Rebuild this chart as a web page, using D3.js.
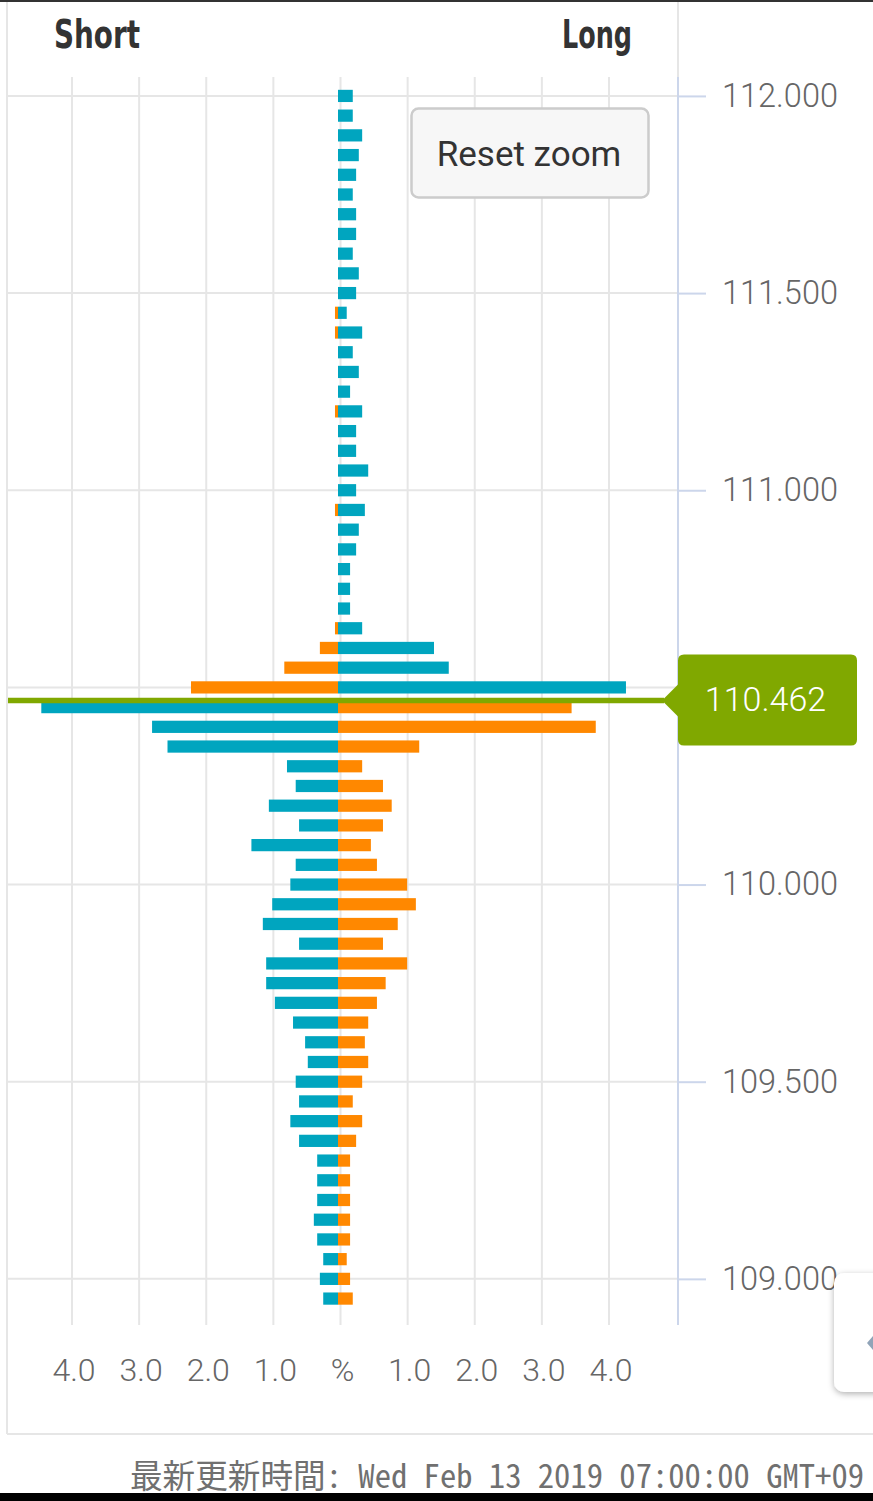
<!DOCTYPE html>
<html>
<head>
<meta charset="utf-8">
<script src="https://cdn.jsdelivr.net/npm/d3@7"></script>
<style>
html,body{margin:0;padding:0;background:#fff;overflow:hidden;}
svg{display:block;}
</style>
</head>
<body>
<svg id="chart" width="873" height="1501"></svg>
<script>
// ---------------- DATA ----------------
const prices = [
  112.00,111.95,111.90,111.85,111.80,111.75,111.70,111.65,111.60,111.55,
  111.50,111.45,111.40,111.35,111.30,111.25,111.20,111.15,111.10,111.05,
  111.00,110.95,110.90,110.85,110.80,110.75,110.70,110.65,110.60,110.55,
  110.50,110.45,110.40,110.35,110.30,110.25,110.20,110.15,110.10,110.05,
  110.00,109.95,109.90,109.85,109.80,109.75,109.70,109.65,109.60,109.55,
  109.50,109.45,109.40,109.35,109.30,109.25,109.20,109.15,109.10,109.05,
  109.00,108.95
];
// % of positions, short side (drawn to the left)
const shortPct = [
  0,0,0,0,0,0,0,0,0,0,
  0,0.045,0.045,0,0,0,0.045,0,0,0,
  0,0.045,0,0,0,0,0,0.045,0.27,0.80,
  2.19,4.42,2.77,2.54,0.76,0.63,1.03,0.58,1.29,0.63,
  0.71,0.98,1.12,0.58,1.07,1.07,0.94,0.67,0.49,0.45,
  0.63,0.58,0.71,0.58,0.31,0.31,0.31,0.36,0.31,0.22,
  0.27,0.22
];
// % of positions, long side (drawn to the right)
const longPct = [
  0.22,0.22,0.36,0.31,0.27,0.22,0.27,0.27,0.22,0.31,
  0.27,0.13,0.36,0.22,0.31,0.18,0.36,0.27,0.27,0.45,
  0.27,0.40,0.31,0.27,0.18,0.18,0.18,0.36,1.43,1.65,
  4.29,3.48,3.84,1.21,0.36,0.67,0.80,0.67,0.49,0.58,
  1.03,1.16,0.89,0.67,1.03,0.71,0.58,0.45,0.40,0.45,
  0.36,0.22,0.36,0.27,0.18,0.18,0.18,0.18,0.18,0.13,
  0.18,0.22
];
const currentPrice = 110.462;
const xTickValues = [-4,-3,-2,-1,0,1,2,3,4];
const xTickLabels = ["4.0","3.0","2.0","1.0","%","1.0","2.0","3.0","4.0"];
const yTickValues = [109.0,109.5,110.0,110.5,111.0,111.5,112.0];
const sideTitles = ["Short","Long"];
const footerText = "最新更新時間: Wed Feb 13 2019 07:00:00 GMT+09";
const buttonText = "Reset zoom";

// ---------------- STYLE ----------------
const TEAL = "#00a5bf", ORANGE = "#ff8800", GREEN = "#80a800";
const GRID = "#e6e6e6", AXIS = "#ccd6eb", TEXT = "#666666";

const svg = d3.select("#chart");

const plotTop = 77, plotBottom = 1325, plotLeft = 8, plotRight = 678;

const y = d3.scaleLinear().domain([108.883, 112.048]).range([plotBottom, plotTop]);
const x = d3.scaleLinear().domain([-4, 4]).range([72, 609]);      // grid / labels
const xb = d3.scaleLinear().domain([-4, 4]).range([69.5, 606.5]); // bars

// outer frame
svg.append("line").attr("x1",0).attr("x2",873).attr("y1",1).attr("y2",1)
  .attr("stroke","#333").attr("stroke-width",2);
svg.append("line").attr("x1",7).attr("x2",7).attr("y1",2).attr("y2",1434)
  .attr("stroke",GRID).attr("stroke-width",2);
svg.append("line").attr("x1",7).attr("x2",873).attr("y1",1434).attr("y2",1434)
  .attr("stroke",GRID).attr("stroke-width",2);
svg.append("line").attr("x1",plotRight).attr("x2",plotRight).attr("y1",2).attr("y2",plotTop)
  .attr("stroke",GRID).attr("stroke-width",2);

// vertical grid
svg.append("g").selectAll("line").data(xTickValues).join("line")
  .attr("x1",d=>x(d)).attr("x2",d=>x(d)).attr("y1",plotTop).attr("y2",plotBottom)
  .attr("stroke",GRID).attr("stroke-width",2);

// horizontal grid
svg.append("g").selectAll("line").data(yTickValues).join("line")
  .attr("x1",plotLeft).attr("x2",plotRight).attr("y1",d=>y(d)).attr("y2",d=>y(d))
  .attr("stroke",GRID).attr("stroke-width",2);

// right axis
const yAxis = d3.axisRight(y).tickValues(yTickValues).tickSize(28).tickPadding(16)
  .tickFormat(d=> Math.abs(d-currentPrice) < 0.1 ? "" : d3.format(".3f")(d));
const gy = svg.append("g").attr("transform",`translate(${plotRight},0)`).call(yAxis);
gy.select(".domain").attr("stroke",AXIS).attr("stroke-width",2)
  .attr("d",`M0,${plotTop}V${plotBottom}`);
gy.selectAll(".tick line").attr("stroke",AXIS).attr("stroke-width",2);
gy.selectAll(".tick text").attr("fill",TEXT).attr("font-family","Roboto")
  .attr("font-weight",300).attr("font-size",32.5);

// x labels
svg.append("g").selectAll("text").data(xTickValues).join("text")
  .attr("x",d=>x(d)+2).attr("y",1381).attr("text-anchor","middle")
  .attr("fill",TEXT).attr("font-family","Roboto").attr("font-weight",300).attr("font-size",32)
  .text((d,i)=>xTickLabels[i]);

// bars
const step = Math.abs(y(0.05) - y(0));
const bh = step * 0.62;
const rows = prices.map((p,i)=>({p, s: shortPct[i], l: longPct[i], above: p > currentPrice}));

svg.append("g").selectAll("rect").data(rows.filter(d=>d.s>0)).join("rect")
  .attr("x",d=>xb(-d.s)).attr("width",d=>xb(0)-xb(-d.s))
  .attr("y",d=>y(d.p)-bh/2).attr("height",bh)
  .attr("fill",d=>d.above ? ORANGE : TEAL);
svg.append("g").selectAll("rect").data(rows.filter(d=>d.l>0)).join("rect")
  .attr("x",xb(0)).attr("width",d=>xb(d.l)-xb(0))
  .attr("y",d=>y(d.p)-bh/2).attr("height",bh)
  .attr("fill",d=>d.above ? TEAL : ORANGE);

// current price line + label
const cy = y(currentPrice) - 2;
svg.append("line").attr("x1",plotLeft).attr("x2",664).attr("y1",cy).attr("y2",cy)
  .attr("stroke",GREEN).attr("stroke-width",5.5);
const bx0 = 678, bx1 = 857, by0 = cy-46, by1 = cy+45, r = 6;
svg.append("path").attr("fill",GREEN)
  .attr("d",`M${bx0+r},${by0} H${bx1-r} Q${bx1},${by0} ${bx1},${by0+r} V${by1-r} Q${bx1},${by1} ${bx1-r},${by1} H${bx0+r} Q${bx0},${by1} ${bx0},${by1-r} V${cy+16} L${bx0-16},${cy} L${bx0},${cy-16} V${by0+r} Q${bx0},${by0} ${bx0+r},${by0} Z`);
svg.append("text").attr("x",(bx0+bx1)/2 - 2).attr("y",cy+11).attr("text-anchor","middle")
  .attr("fill","#fff").attr("font-family","Roboto").attr("font-weight",300).attr("font-size",34)
  .text(d3.format(".3f")(currentPrice));

// titles
svg.append("text").attr("x",54).attr("y",48).attr("fill","#333")
  .attr("font-family","DejaVu Sans Condensed, DejaVu Sans").attr("font-weight","bold").attr("font-size",39)
  .attr("textLength",86).attr("lengthAdjust","spacingAndGlyphs").text(sideTitles[0]);
svg.append("text").attr("x",562).attr("y",48).attr("fill","#333")
  .attr("font-family","DejaVu Sans Condensed, DejaVu Sans").attr("font-weight","bold").attr("font-size",39)
  .attr("textLength",70).attr("lengthAdjust","spacingAndGlyphs").text(sideTitles[1]);

// reset zoom button
svg.append("rect").attr("x",411.5).attr("y",108.5).attr("width",237).attr("height",89).attr("rx",7)
  .attr("fill","#f7f7f7").attr("stroke","#cccccc").attr("stroke-width",2.5);
svg.append("text").attr("x",529).attr("y",166).attr("text-anchor","middle")
  .attr("fill","#333").attr("font-family","Roboto").attr("font-size",35).text(buttonText);

// side tab with shadow
const defs = svg.append("defs");
const f = defs.append("filter").attr("id","sh").attr("x","-50%").attr("y","-50%").attr("width","200%").attr("height","200%");
f.append("feDropShadow").attr("dx",0).attr("dy",2).attr("stdDeviation",3).attr("flood-color","#000").attr("flood-opacity",0.3);
svg.append("rect").attr("x",834).attr("y",1273).attr("width",70).attr("height",119).attr("rx",10)
  .attr("fill","#fff").attr("filter","url(#sh)");
svg.append("path").attr("d","M873,1336 L867,1343 L873,1350 Z").attr("fill","#90a4b8");

// footer
svg.append("text").attr("x",130).attr("y",1488).attr("fill","#707070")
  .attr("font-family","Noto Sans Mono CJK JP, Noto Sans CJK JP, DejaVu Sans Mono").attr("font-weight",300).attr("font-size",33)
  .attr("textLength",734).attr("lengthAdjust","spacingAndGlyphs").text(footerText);

// bottom black strip
svg.append("rect").attr("x",0).attr("y",1493).attr("width",873).attr("height",8).attr("fill","#000");
</script>
</body>
</html>
